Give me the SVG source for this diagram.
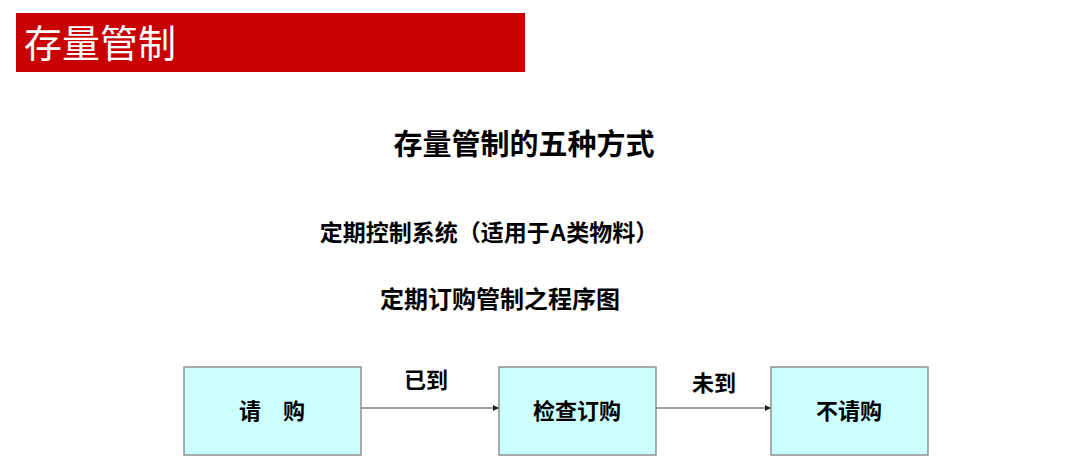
<svg xmlns="http://www.w3.org/2000/svg" width="1080" height="473" viewBox="0 0 1080 473">
<defs>
<style>
.t{font-family:"Liberation Sans","Noto Sans CJK SC",sans-serif;font-weight:bold;fill:#000;text-anchor:middle}
.box{fill:#CCFFFF;stroke:#808080;stroke-width:1.3}
.conn{stroke:#404040;stroke-width:1.2;fill:none;marker-end:url(#arr)}
</style>
<marker id="arr" viewBox="0 0 10 10" refX="10" refY="5" markerWidth="6" markerHeight="6" orient="auto" markerUnits="userSpaceOnUse">
<path d="M0,0 L10,5 L0,10 z" fill="#202020"/>
</marker>
</defs>
<rect width="1080" height="473" fill="#fff"/>
<g id="header">
<rect x="16" y="13" width="509" height="59" fill="#C80000"/>
<text x="24" y="57" font-family="'Noto Sans CJK SC',sans-serif" font-size="38" fill="#fff">存量管制</text>
</g>
<g id="titles">
<text class="t" x="524" y="155" font-size="29">存量管制的五种方式</text>
<text class="t" x="489" y="241" font-size="23">定期控制系统（适用于A类物料）</text>
<text class="t" x="500" y="308" font-size="24">定期订购管制之程序图</text>
</g>
<g id="connectors">
<line class="conn" x1="361" y1="408" x2="499" y2="408"/>
<line class="conn" x1="656" y1="408" x2="771" y2="408"/>
<text class="t" x="426" y="388" font-size="22">已到</text>
<text class="t" x="714" y="391" font-size="22">未到</text>
</g>
<g id="node1">
<rect class="box" x="184" y="367" width="177" height="88"/>
<text class="t" x="272" y="419" font-size="22">请　购</text>
</g>
<g id="node2">
<rect class="box" x="499" y="367" width="157" height="88"/>
<text class="t" x="577" y="419" font-size="22">检查订购</text>
</g>
<g id="node3">
<rect class="box" x="771" y="367" width="157" height="88"/>
<text class="t" x="849" y="419" font-size="22">不请购</text>
</g>
</svg>
